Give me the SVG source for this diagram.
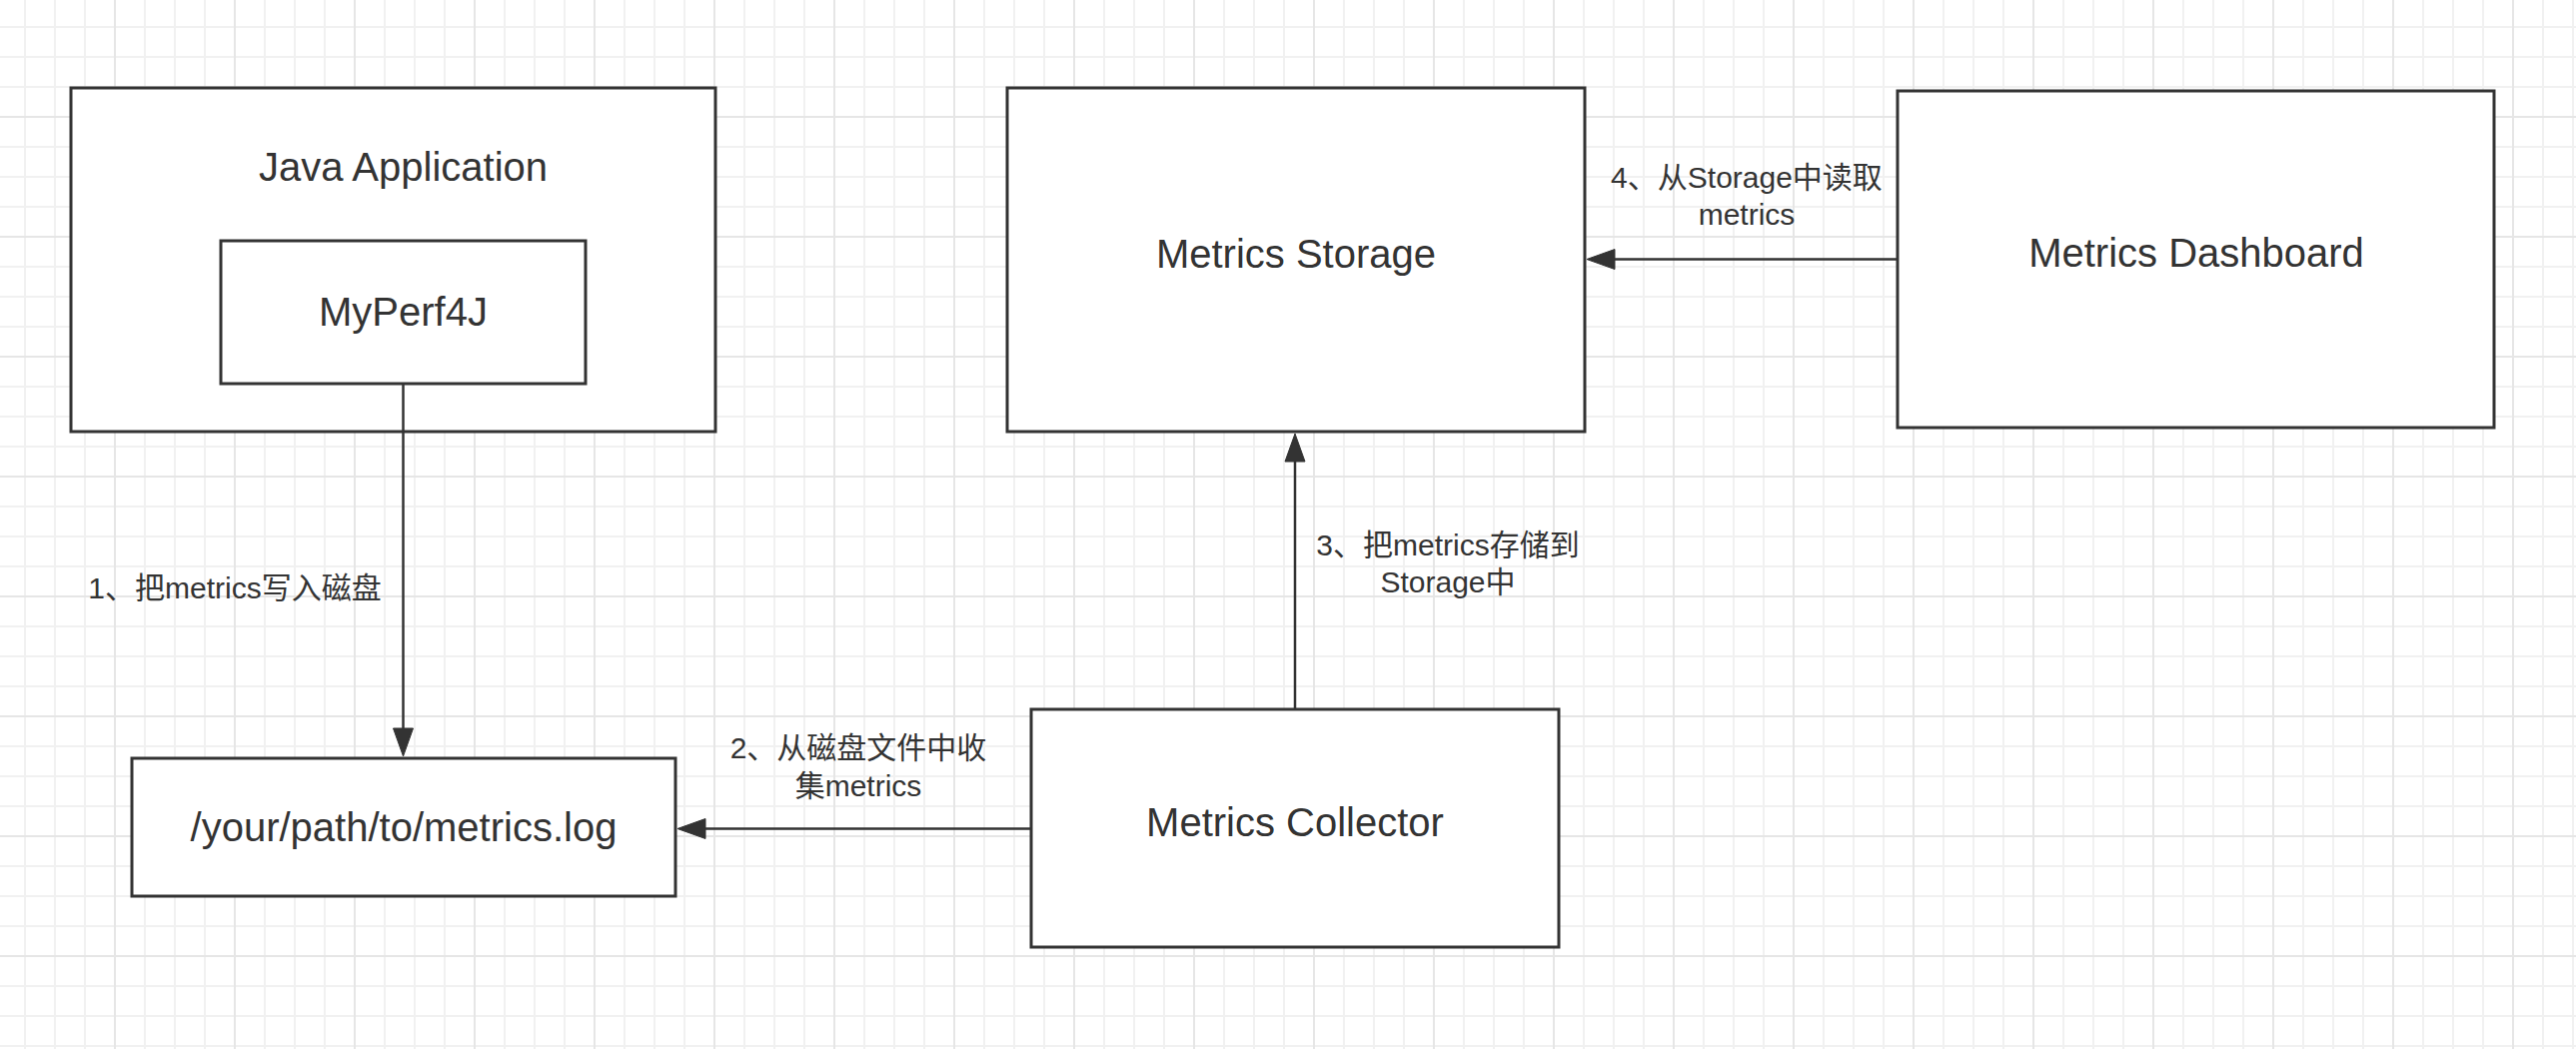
<svg xmlns="http://www.w3.org/2000/svg" width="2578" height="1050" viewBox="0 0 2578 1050">
  <style>
    .box { fill: #ffffff; stroke: #333333; stroke-width: 3; }
    .node-text { font-family: "Liberation Sans", Arial, sans-serif; font-size: 40px; fill: #333333; text-anchor: middle; }
    .label { font-family: "Liberation Sans", "Noto Sans CJK SC", sans-serif; font-size: 30px; fill: #333333; text-anchor: middle; }
    .edge { fill: none; stroke: #333333; stroke-width: 2.5; marker-end: url(#arrow); }
    .minor { stroke: #f1f1f1; stroke-width: 2; }
    .major { stroke: #e6e6e6; stroke-width: 2; }
  </style>
  <defs>
    <pattern id="grid" patternUnits="userSpaceOnUse" x="-6" y="-4" width="120" height="120">
      <line class="minor" x1="31" y1="0" x2="31" y2="120"/>
      <line class="minor" x1="61" y1="0" x2="61" y2="120"/>
      <line class="minor" x1="91" y1="0" x2="91" y2="120"/>
      <line class="minor" x1="0" y1="31" x2="120" y2="31"/>
      <line class="minor" x1="0" y1="61" x2="120" y2="61"/>
      <line class="minor" x1="0" y1="91" x2="120" y2="91"/>
      <line class="major" x1="1" y1="0" x2="1" y2="120"/>
      <line class="major" x1="0" y1="1" x2="120" y2="1"/>
    </pattern>
    <marker id="arrow" markerUnits="userSpaceOnUse" markerWidth="30" markerHeight="22" refX="2" refY="10" orient="auto" overflow="visible">
      <path d="M0,0 L28,10 L0,20 Z" fill="#333333" stroke="#333333" stroke-width="1"/>
    </marker>
  </defs>

  <rect x="0" y="0" width="2578" height="1050" fill="#ffffff"/>
  <rect x="0" y="0" width="2578" height="1050" fill="url(#grid)"/>

  <g id="java-application">
    <rect class="box" x="71" y="88" width="645" height="344"/>
    <text class="node-text" x="403.5" y="181">Java Application</text>
  </g>

  <g id="myperf4j">
    <rect class="box" x="221" y="241" width="365" height="143"/>
    <text class="node-text" x="403.5" y="326">MyPerf4J</text>
  </g>

  <g id="metrics-log">
    <rect class="box" x="132" y="759" width="544" height="138"/>
    <text class="node-text" x="404" y="842">/your/path/to/metrics.log</text>
  </g>

  <g id="metrics-storage">
    <rect class="box" x="1008" y="88" width="578" height="344"/>
    <text class="node-text" x="1297" y="268">Metrics Storage</text>
  </g>

  <g id="metrics-collector">
    <rect class="box" x="1032" y="710" width="528" height="238"/>
    <text class="node-text" x="1296" y="837">Metrics Collector</text>
  </g>

  <g id="metrics-dashboard">
    <rect class="box" x="1899" y="91" width="597" height="337"/>
    <text class="node-text" x="2198" y="267">Metrics Dashboard</text>
  </g>

  <g id="connectors">
    <path class="edge" d="M403.5,384 L403.5,731"/>
    <path class="edge" d="M1032,829.5 L704,829.5"/>
    <path class="edge" d="M1296,710 L1296,460"/>
    <path class="edge" d="M1899,259.5 L1614,259.5"/>
    <text class="label" x="235" y="599">1、把metrics写入磁盘</text>
    <text class="label" x="859" y="759">2、从磁盘文件中收</text>
    <text class="label" x="859" y="797">集metrics</text>
    <text class="label" x="1449" y="556">3、把metrics存储到</text>
    <text class="label" x="1449" y="593">Storage中</text>
    <text class="label" x="1748" y="188">4、从Storage中读取</text>
    <text class="label" x="1748" y="225">metrics</text>
  </g>
</svg>
